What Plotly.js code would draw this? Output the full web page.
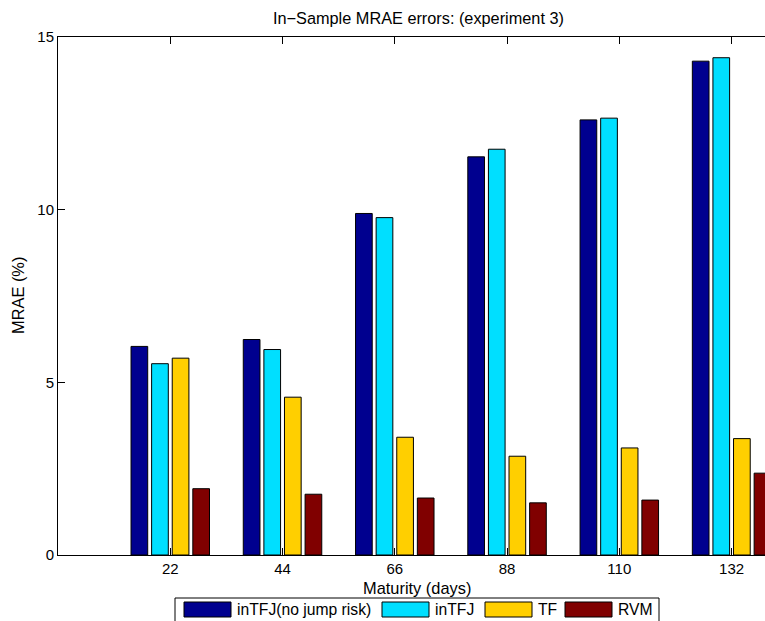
<!DOCTYPE html>
<html>
<head>
<meta charset="utf-8">
<script src="https://cdn.plot.ly/plotly-3.0.1.min.js"></script>
<style>html,body{margin:0;padding:0;background:#fff;overflow:hidden}#chart{width:765px;height:621px}</style>
</head>
<body>
<div id="chart"></div>
<script>
const maturities = [22, 44, 66, 88, 110, 132];
const seriesNames = ["inTFJ(no jump risk)", "inTFJ", "TF", "RVM"];
const inTFJnoJump = [6.04, 6.24, 9.89, 11.53, 12.60, 14.30];
const inTFJ = [5.54, 5.95, 9.77, 11.75, 12.65, 14.40];
const TF = [5.70, 4.57, 3.41, 2.86, 3.10, 3.37];
const RVM = [1.92, 1.76, 1.65, 1.51, 1.59, 2.37];
const yTicks = [0, 5, 10, 15];
const titleText = "In\u2212Sample MRAE errors: (experiment 3)";
const xTitle = "Maturity (days)";
const yTitle = "MRAE (%)";

const seriesValues = [inTFJnoJump, inTFJ, TF, RVM];
const colors = ["#00008F", "#00DFFF", "#FFCF00", "#800000"];
const FONT = "Liberation Sans, Arial, Helvetica, sans-serif";

// pixel layout helpers
const W = 765, H = 621, L = 58, R = 0, T = 37, B = 66;
const pw = W - L - R, ph = H - T - B;
const px2x = p => (p - L) / pw;
const py2y = p => (H - B - p) / ph;

const traces = seriesValues.map((vals, i) => ({
  type: "bar",
  x: maturities,
  y: vals,
  name: seriesNames[i],
  marker: {color: colors[i], line: {color: "#000", width: 1}},
  showlegend: false,
  hoverinfo: "x+y+name"
}));

// manual legend matching the boxed MATLAB legend
const legendBox = {x0: 175, x1: 659, y0: 598, y1: 622};
const swatchX = [184, 382, 485, 565];
const swatchW = 47;
const shapes = [{
  type: "rect", xref: "paper", yref: "paper",
  x0: px2x(legendBox.x0), x1: px2x(legendBox.x1),
  y0: py2y(legendBox.y1), y1: py2y(legendBox.y0),
  line: {color: "#000", width: 1}, fillcolor: "#fff"
}];
const annotations = [];
seriesNames.forEach((nm, i) => {
  shapes.push({
    type: "rect", xref: "paper", yref: "paper",
    x0: px2x(swatchX[i]), x1: px2x(swatchX[i] + swatchW),
    y0: py2y(617), y1: py2y(602),
    line: {color: "#000", width: 1}, fillcolor: colors[i]
  });
  annotations.push({
    xref: "paper", yref: "paper",
    x: px2x(swatchX[i] + swatchW + 4), y: py2y(609.5),
    xanchor: "left", yanchor: "middle", showarrow: false,
    text: nm, font: {family: FONT, size: 15.7, color: "#000"}
  });
});
annotations.push({
  xref: "paper", yref: "paper", x: px2x(417), y: py2y(588),
  xanchor: "center", yanchor: "middle", showarrow: false,
  text: xTitle, font: {family: FONT, size: 16.4, color: "#000"}
});
annotations.push({
  xref: "paper", yref: "paper", x: px2x(418), y: py2y(18),
  xanchor: "center", yanchor: "middle", showarrow: false,
  text: titleText, font: {family: FONT, size: 16.3, color: "#000"}
});
annotations.push({
  xref: "paper", yref: "paper", x: px2x(18), y: py2y(296),
  xanchor: "center", yanchor: "middle", showarrow: false, textangle: -90,
  text: yTitle, font: {family: FONT, size: 16.4, color: "#000"}
});

const layout = {
  width: W, height: H,
  margin: {l: L, r: R, t: T, b: B, pad: 0},
  paper_bgcolor: "#fff", plot_bgcolor: "#fff",
  barmode: "group", bargap: 0.266, bargroupgap: 0.19,
  font: {family: FONT, size: 15, color: "#000"},
  xaxis: {
    range: [0, 138.55], tickvals: maturities, ticktext: maturities.map(String),
    showline: true, linecolor: "#000", linewidth: 1, mirror: "ticks",
    ticks: "inside", ticklen: 7, tickcolor: "#000", tickwidth: 1,
    showgrid: false, zeroline: false, fixedrange: true,
    tickfont: {family: FONT, size: 15, color: "#000"}
  },
  yaxis: {
    range: [0, 15], tickvals: yTicks, ticktext: yTicks.map(String),
    showline: true, linecolor: "#000", linewidth: 1, mirror: false,
    ticks: "inside", ticklen: 7, tickcolor: "#000", tickwidth: 1,
    showgrid: false, zeroline: false, fixedrange: true,
    tickfont: {family: FONT, size: 15, color: "#000"}
  },
  shapes: shapes,
  annotations: annotations
};

Plotly.newPlot("chart", traces, layout, {staticPlot: true, displayModeBar: false});
</script>
</body>
</html>
